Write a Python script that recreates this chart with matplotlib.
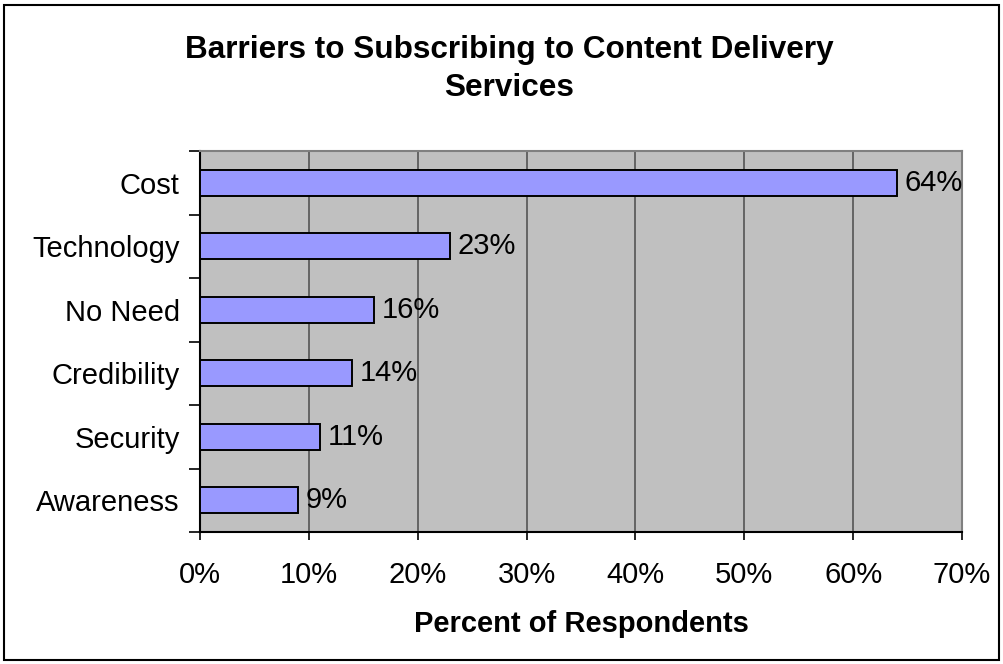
import matplotlib

matplotlib.use("Agg")

import matplotlib.pyplot as plt
from matplotlib.patches import Rectangle
from matplotlib.ticker import FuncFormatter, MultipleLocator

plt.rcParams["font.family"] = ["Liberation Sans", "DejaVu Sans"]

categories = ["Cost", "Technology", "No Need", "Credibility", "Security", "Awareness"]
percent = [64, 23, 16, 14, 11, 9]

PLOT_BG = "#c0c0c0"
BAR = "#9999ff"
LABEL_SIZE = 21

fig = plt.figure(figsize=(10.04, 6.64), dpi=100, facecolor="white")
ax = fig.add_axes([200 / 1004, 1 - 532 / 664, 762 / 1004, 381 / 664])
ax.set_facecolor(PLOT_BG)

# top of the list sits at the top of the axis
ypos = list(range(len(categories)))[::-1]
ax.barh(ypos, percent, height=0.41, color=BAR, edgecolor="black", linewidth=1.4, zorder=3)
for y, v in zip(ypos, percent):
    ax.text(v + 0.7, y, f"{v}%", va="center", ha="left", fontsize=LABEL_SIZE, zorder=4)

ax.set_xlim(0, 70)
ax.set_ylim(-0.5, len(categories) - 0.5)
ax.xaxis.set_major_locator(MultipleLocator(10))
ax.xaxis.set_major_formatter(FuncFormatter(lambda x, _: f"{x:.0f}%"))
ax.grid(axis="x", color="#555555", linewidth=1.2, zorder=1)

# category ticks sit between bars, labels centred on bars
ax.set_yticks([i + 0.5 for i in range(-1, len(categories))])
ax.set_yticklabels([])
ax.set_yticks(ypos, minor=True)
ax.set_yticklabels(categories, minor=True, fontsize=LABEL_SIZE)
ax.tick_params(axis="y", which="minor", length=0, pad=14.5)
ax.tick_params(axis="y", which="major", length=8, width=1.2, color="black")
ax.tick_params(axis="x", length=6, width=1.2, pad=15, labelsize=LABEL_SIZE)

for side in ("top", "right"):
    ax.spines[side].set_color("#808080")
    ax.spines[side].set_linewidth(1.5)
for side in ("left", "bottom"):
    ax.spines[side].set_color("black")
    ax.spines[side].set_linewidth(1.5)

ax.set_xlabel("Percent of Respondents", fontsize=21, fontweight="bold", labelpad=15)

fig.text(509 / 1004, 1 - 69 / 664, "Barriers to Subscribing to Content Delivery\nServices",
         ha="center", va="center", fontsize=22.7, fontweight="bold", linespacing=1.36)

fig.patches.append(Rectangle((4 / 1004, 4 / 664), 995 / 1004, 655 / 664,
                             transform=fig.transFigure, fill=False,
                             edgecolor="black", linewidth=1.5))

fig.savefig("out.png", dpi=100, facecolor="white")
